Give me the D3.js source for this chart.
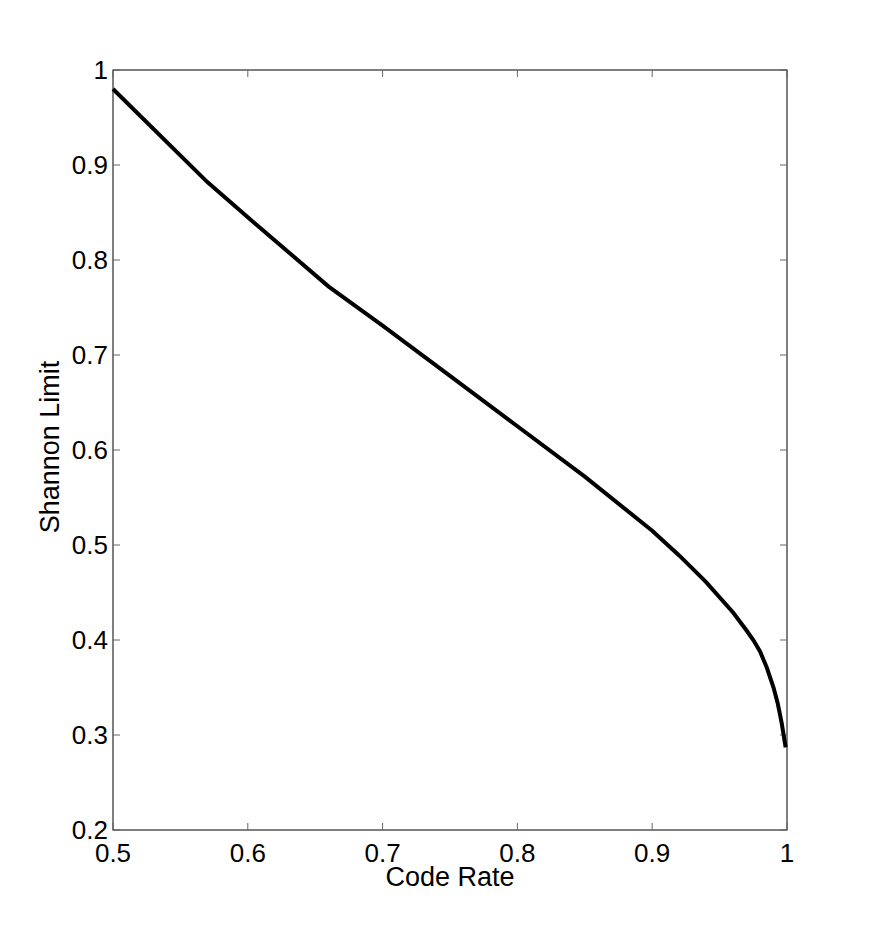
<!DOCTYPE html>
<html>
<head>
<meta charset="utf-8">
<script src="https://cdn.jsdelivr.net/npm/d3@7"></script>
<style>
  body { margin: 0; background: #fff; }
  text { font-family: "Liberation Sans", Arial, sans-serif; fill: #000; }
</style>
</head>
<body>
<div id="chart"></div>
<script>
// code rate vs shannon limit
var codeRate = [0.5, 0.57, 0.6, 0.66, 0.7, 0.75, 0.8, 0.85, 0.9, 0.92, 0.94, 0.96, 0.97, 0.975, 0.98, 0.985, 0.99, 0.993, 0.996, 0.999];
var shannonLimit = [0.980, 0.882, 0.845, 0.772, 0.731, 0.678, 0.625, 0.572, 0.515, 0.489, 0.461, 0.429, 0.410, 0.400, 0.388, 0.371, 0.350, 0.334, 0.313, 0.287];
var xTicks = [0.5, 0.6, 0.7, 0.8, 0.9, 1];
var yTicks = [0.2, 0.3, 0.4, 0.5, 0.6, 0.7, 0.8, 0.9, 1];

var margin = {top: 70, right: 83, bottom: 104, left: 113},
    width = 870 - margin.left - margin.right,
    height = 934 - margin.top - margin.bottom;

var svg = d3.select("#chart").append("svg")
    .attr("width", 870)
    .attr("height", 934)
  .append("g")
    .attr("transform", "translate(" + margin.left + "," + margin.top + ")");

var x = d3.scaleLinear().domain([0.5, 1]).range([0, width]);
var y = d3.scaleLinear().domain([0.2, 1]).range([height, 0]);

var fmt = d => d === 1 ? "1" : d3.format(".1f")(d);

// box
svg.append("rect")
    .attr("width", width)
    .attr("height", height)
    .attr("fill", "none")
    .attr("stroke", "#000")
    .attr("stroke-width", 1);

// inward ticks on all four sides
var tl = 7;
svg.selectAll(".xtb").data(xTicks).enter().append("line")
    .attr("x1", d => x(d)).attr("x2", d => x(d))
    .attr("y1", height).attr("y2", height - tl)
    .attr("stroke", "#666");
svg.selectAll(".xtt").data(xTicks).enter().append("line")
    .attr("x1", d => x(d)).attr("x2", d => x(d))
    .attr("y1", 0).attr("y2", tl)
    .attr("stroke", "#666");
svg.selectAll(".ytl").data(yTicks).enter().append("line")
    .attr("x1", 0).attr("x2", tl)
    .attr("y1", d => y(d)).attr("y2", d => y(d))
    .attr("stroke", "#666");
svg.selectAll(".ytr").data(yTicks).enter().append("line")
    .attr("x1", width).attr("x2", width - tl)
    .attr("y1", d => y(d)).attr("y2", d => y(d))
    .attr("stroke", "#666");

// tick labels
svg.selectAll(".xlab").data(xTicks).enter().append("text")
    .attr("x", d => x(d))
    .attr("y", height + 32)
    .attr("text-anchor", "middle")
    .style("font-size", "26px")
    .text(fmt);

svg.selectAll(".ylab").data(yTicks).enter().append("text")
    .attr("x", -5)
    .attr("y", d => y(d) + 9)
    .attr("text-anchor", "end")
    .style("font-size", "26px")
    .text(fmt);

// axis titles
svg.append("text")
    .attr("x", width / 2)
    .attr("y", height + 56)
    .attr("text-anchor", "middle")
    .style("font-size", "27px")
    .text("Code Rate");

svg.append("text")
    .attr("transform", "translate(-54," + (height / 2 - 3) + ") rotate(-90)")
    .attr("text-anchor", "middle")
    .style("font-size", "27px")
    .text("Shannon Limit");

// the curve
var pts = codeRate.map((r, i) => [r, shannonLimit[i]]);
var line = d3.line()
    .x(d => x(d[0]))
    .y(d => y(d[1]));

svg.append("path")
    .datum(pts)
    .attr("fill", "none")
    .attr("stroke", "#000")
    .attr("stroke-width", 4)
    .attr("d", line);
</script>
</body>
</html>
